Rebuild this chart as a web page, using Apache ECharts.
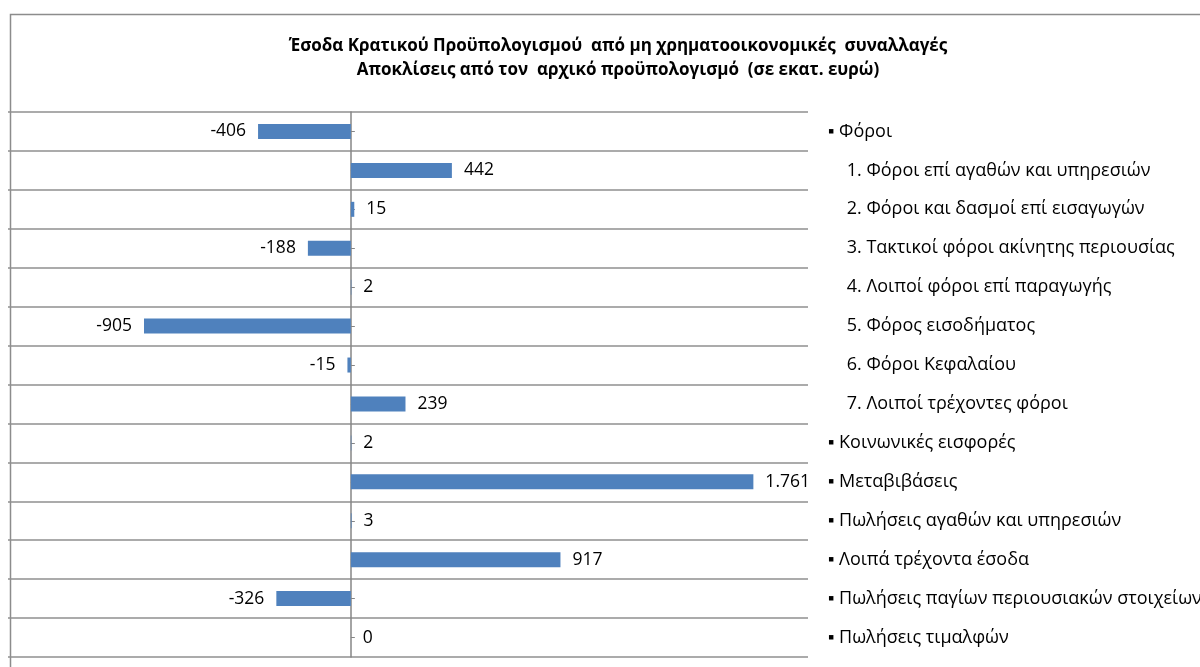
<!DOCTYPE html>
<html><head><meta charset="utf-8">
<script src="https://cdn.jsdelivr.net/npm/echarts@6/dist/echarts.min.js"></script>
<style>html,body{margin:0;padding:0;background:#fff}#c{width:1200px;height:667px}</style>
</head><body><div id="c"></div>
<script>
var titleLines = ['Έσοδα Κρατικού Προϋπολογισμού  από μη χρηματοοικονομικές  συναλλαγές', 'Αποκλίσεις από τον  αρχικό προϋπολογισμό  (σε εκατ. ευρώ)'];
var categories = [
  '▪ Φόροι',
  '    1. Φόροι επί αγαθών και υπηρεσιών',
  '    2. Φόροι και δασμοί επί εισαγωγών',
  '    3. Τακτικοί φόροι ακίνητης περιουσίας',
  '    4. Λοιποί φόροι επί παραγωγής',
  '    5. Φόρος εισοδήματος',
  '    6. Φόροι Κεφαλαίου',
  '    7. Λοιποί τρέχοντες φόροι',
  '▪ Κοινωνικές εισφορές',
  '▪ Μεταβιβάσεις',
  '▪ Πωλήσεις αγαθών και υπηρεσιών',
  '▪ Λοιπά τρέχοντα έσοδα',
  '▪ Πωλήσεις παγίων περιουσιακών στοιχείων',
  '▪ Πωλήσεις τιμαλφών'
];
var values = [-406, 442, 15, -188, 2, -905, -15, 239, 2, 1761, 3, 917, -326, 0];
var axisMin = -1500, axisMax = 2000;

function fmt(v) {
  var s = String(Math.abs(v)).replace(/\B(?=(\d{3})+(?!\d))/g, '.');
  return (v < 0 ? '-' : '') + s;
}
var FONT = 'Open Sans';
var seriesData = values.map(function (v) {
  return { value: v, label: { position: v < 0 ? 'left' : 'right' } };
});

var chart = echarts.init(document.getElementById('c'), null, { renderer: 'canvas' });
chart.setOption({
  animation: false,
  backgroundColor: '#fff',
  graphic: [{
    type: 'rect', left: 8, top: 12, z: -1,
    shape: { width: 1400, height: 800 },
    style: { fill: 'none', stroke: '#8c8c8c', lineWidth: 1.5 }
  }],
  title: {
    text: titleLines.join('\n'),
    left: 613, top: 29, textAlign: 'center',
    textStyle: { fontFamily: FONT, fontSize: 17, fontWeight: 'bold', color: '#000', lineHeight: 24 }
  },
  grid: { left: 8, right: 392, top: 112, bottom: 10, containLabel: false, outerBoundsMode: 'none' },
  xAxis: {
    type: 'value', min: axisMin, max: axisMax, show: false,
    splitLine: { show: false }
  },
  yAxis: [{
    type: 'category', data: categories, inverse: true,
    axisLine: { show: true, onZero: true, lineStyle: { color: '#868686', width: 1.5 } },
    axisTick: { show: true, inside: true, alignWithLabel: true, length: 4, lineStyle: { color: '#868686' } },
    axisLabel: { show: false },
    splitLine: { show: true, lineStyle: { color: '#8f8f8f', width: 1.5 } }
  }, {
    type: 'category', data: categories, inverse: true, position: 'right',
    axisLine: { show: false }, axisTick: { show: false }, splitLine: { show: false },
    axisLabel: { show: true, align: 'left', margin: 20, fontFamily: FONT, fontSize: 18, color: '#000' }
  }],
  series: [{
    type: 'bar', data: seriesData, yAxisIndex: 0, barWidth: 15,
    itemStyle: { color: '#4F81BD' },
    label: {
      show: true, distance: 12, fontFamily: FONT, fontSize: 17.5, color: '#000',
      formatter: function (p) { return fmt(p.value); }
    }
  }]
});
</script></body></html>
